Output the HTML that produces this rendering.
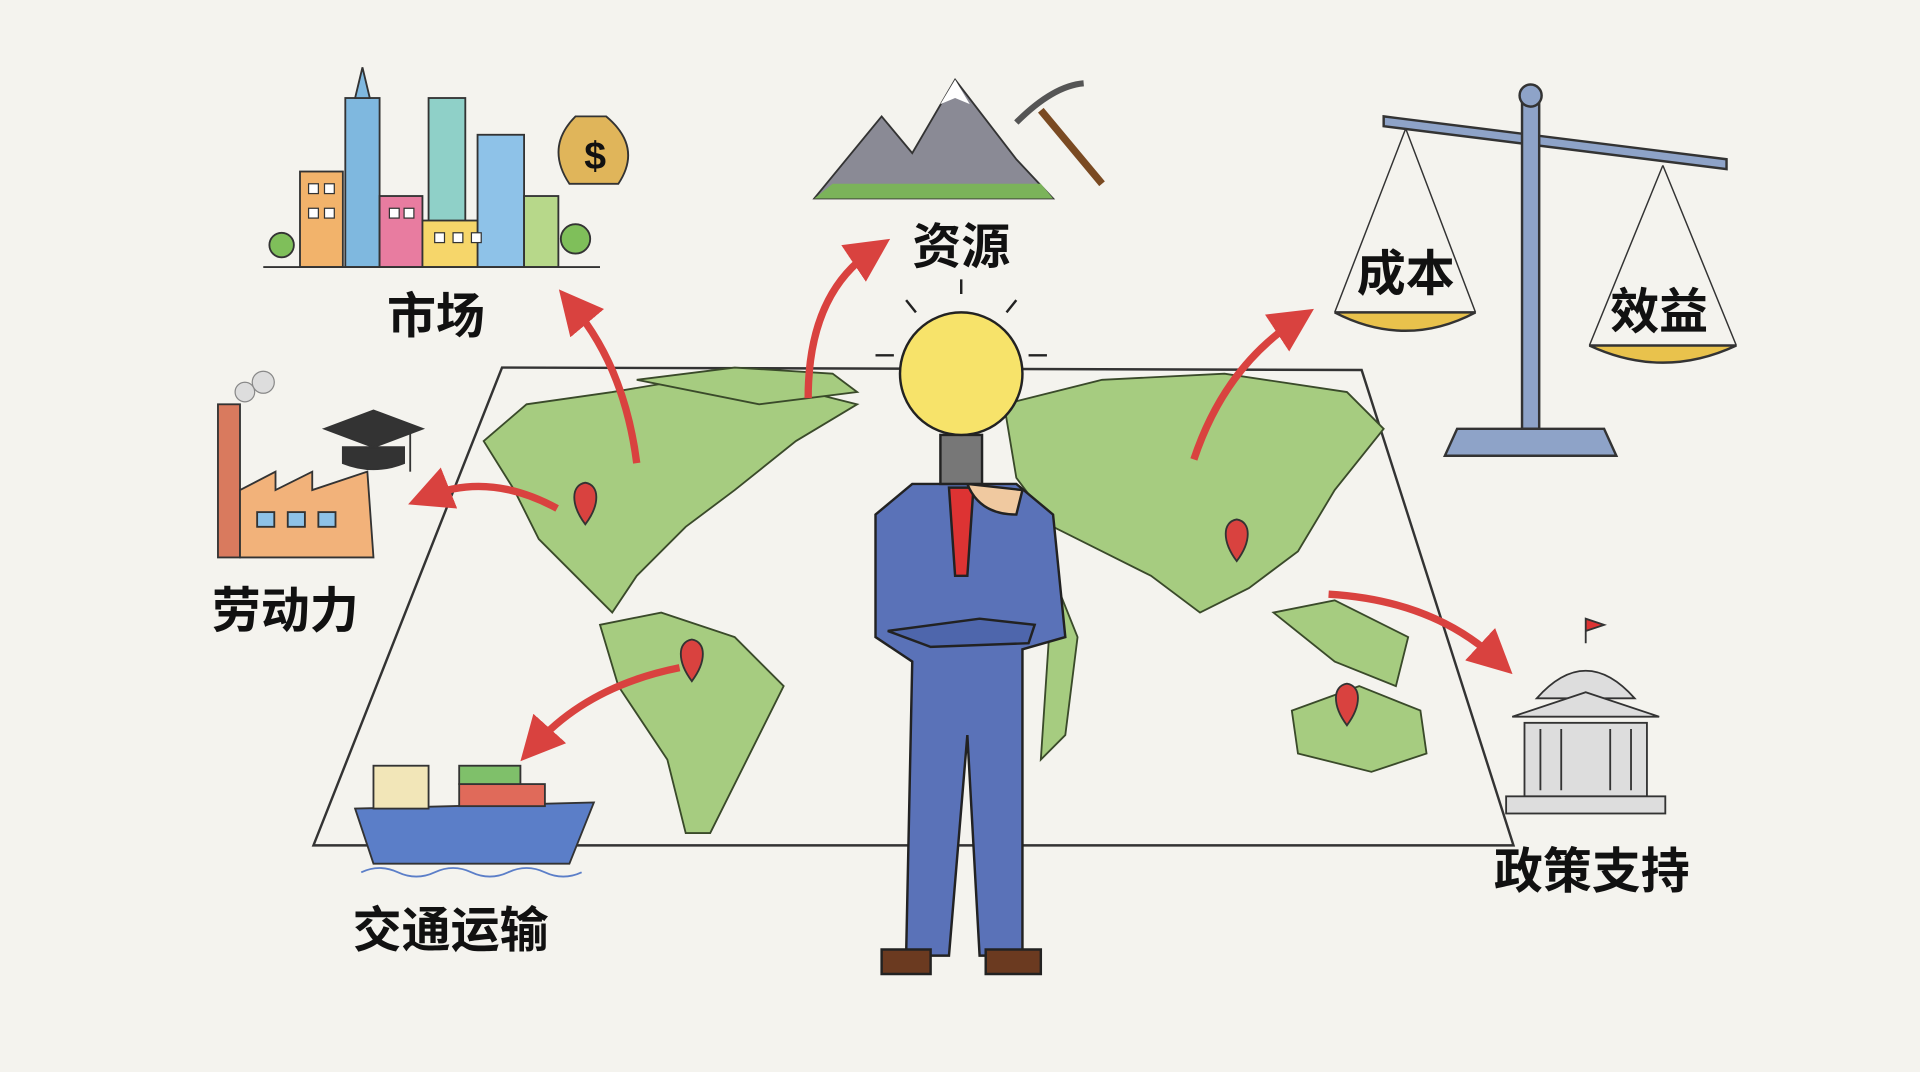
<!DOCTYPE html>
<html><head><meta charset="utf-8"><style>
html,body{margin:0;padding:0;background:#f4f3ee;}
svg{display:block}
text{font-family:"Liberation Sans","Noto Sans CJK SC",sans-serif;font-weight:700;fill:#111}
</style></head><body>
<svg width="1920" height="1072" viewBox="0 0 1568 875" preserveAspectRatio="none" xmlns="http://www.w3.org/2000/svg">
<defs>
<marker id="ah" markerWidth="6" markerHeight="6" refX="3" refY="3" orient="auto"><path d="M0,0 L6,3 L0,6 Z" fill="#d9423f"/></marker>
</defs>
<rect width="1568" height="875" fill="#f4f3ee"/>
<path d="M410,300 L1112,302 L1236,690 L256,690 Z" fill="none" stroke="#333" stroke-width="2"/>
<g fill="#a6cc80" stroke="#3a4a2a" stroke-width="1.5">
<path d="M395,360 L430,330 L500,320 L560,310 L640,315 L700,330 L650,360 L600,400 L560,430 L520,470 L500,500 L470,470 L440,440 L420,400 Z"/>
<path d="M520,310 L600,300 L680,305 L700,320 L620,330 Z"/>
<path d="M490,510 L540,500 L600,520 L640,560 L610,620 L580,680 L560,680 L545,620 L505,560 Z"/>
<path d="M820,330 L900,310 L1000,305 L1100,320 L1130,350 L1090,400 L1060,450 L1020,480 L980,500 L940,470 L900,450 L860,430 L830,390 Z"/>
<path d="M1040,500 L1090,490 L1150,520 L1140,560 L1090,540 Z"/>
<path d="M1055,580 L1110,560 L1160,580 L1165,615 L1120,630 L1060,615 Z"/>
<path d="M860,470 L880,520 L870,600 L850,620 Z"/>
</g>
<g fill="#d9423f" stroke="#333" stroke-width="1.5">
<path d="M478,428 C466,412 466,396 478,394 C490,396 490,412 478,428 Z"/>
<path d="M565,556 C553,540 553,524 565,522 C577,524 577,540 565,556 Z"/>
<path d="M1010,458 C998,442 998,426 1010,424 C1022,426 1022,442 1010,458 Z"/>
<path d="M1100,592 C1088,576 1088,560 1100,558 C1112,560 1112,576 1100,592 Z"/>
</g>
<g fill="none" stroke="#d9423f" stroke-width="6" marker-end="url(#ah)">
<path d="M520,378 Q510,300 468,250"/>
<path d="M660,325 Q660,240 712,205"/>
<path d="M455,415 Q400,385 350,405"/>
<path d="M555,545 Q480,560 437,608"/>
<path d="M975,375 Q1000,300 1058,262"/>
<path d="M1085,485 Q1170,490 1222,538"/>
</g>
<!-- man -->
<g stroke="#222" stroke-width="2">
<path d="M715,420 L745,395 L830,395 L860,420 L870,520 L835,530 L835,780 L800,780 L790,600 L775,780 L740,780 L745,540 L715,520 Z" fill="#5a72b8"/>
<path d="M775,398 L795,398 L790,470 L780,470 Z" fill="#d33"/>
<path d="M725,515 L800,505 L845,510 L840,525 L760,528 Z" fill="#4e66ac"/>
<path d="M790,395 Q800,420 830,420 L835,400 Z" fill="#f0c9a0"/>
<path d="M720,775 L760,775 L760,795 L720,795 Z M805,775 L850,775 L850,795 L805,795 Z" fill="#6b3a20"/>
<rect x="768" y="355" width="34" height="40" fill="#777"/>
<circle cx="785" cy="305" r="50" fill="#f7e36a"/>
</g>
<g stroke="#222" stroke-width="2"><path d="M785,228 L785,240 M740,245 L748,255 M830,245 L822,255 M715,290 L730,290 M840,290 L855,290"/></g>
<!-- city -->
<g stroke="#333" stroke-width="1.5">
<rect x="245" y="140" width="35" height="78" fill="#f2b36b"/>
<rect x="282" y="80" width="28" height="138" fill="#7fb8df"/>
<path d="M290,80 L296,55 L302,80 Z" fill="#7fb8df"/>
<rect x="310" y="160" width="35" height="58" fill="#e87ca0"/>
<rect x="350" y="80" width="30" height="138" fill="#8fd0c8"/>
<rect x="345" y="180" width="60" height="38" fill="#f6d66a"/>
<rect x="390" y="110" width="38" height="108" fill="#8ec2e8"/>
<rect x="428" y="160" width="28" height="58" fill="#b7d88a"/>
<line x1="215" y1="218" x2="490" y2="218"/>
<circle cx="230" cy="200" r="10" fill="#7fbf5a"/>
<circle cx="470" cy="195" r="12" fill="#7fbf5a"/>
<path d="M465,150 Q445,120 470,95 L495,95 Q525,120 505,150 Z" fill="#e0b55a"/>
</g>
<g fill="#fff" stroke="#333" stroke-width="1"><rect x="252" y="150" width="8" height="8"/><rect x="265" y="150" width="8" height="8"/><rect x="252" y="170" width="8" height="8"/><rect x="265" y="170" width="8" height="8"/><rect x="318" y="170" width="8" height="8"/><rect x="330" y="170" width="8" height="8"/><rect x="355" y="190" width="8" height="8"/><rect x="370" y="190" width="8" height="8"/><rect x="385" y="190" width="8" height="8"/></g>
<text x="486" y="138" font-size="32" text-anchor="middle">$</text>
<!-- mountains -->
<path d="M665,162 L720,95 L745,125 L780,65 L830,130 L860,162 Z" fill="#8a8a95" stroke="#333" stroke-width="1.5"/>
<path d="M768,85 L780,65 L792,85 L780,80 Z" fill="#fff"/>
<path d="M665,162 L860,162 L850,150 L680,150 Z" fill="#7bb35a"/>
<path d="M850,90 L900,150" stroke="#7a4a22" stroke-width="6"/>
<path d="M830,100 Q860,70 885,68" stroke="#555" stroke-width="5" fill="none"/>
<!-- scale -->
<g stroke="#333" stroke-width="2" fill="#8ea3c8">
<path d="M1130,95 Q1250,110 1410,130 L1410,138 Q1250,118 1130,103 Z"/>
<rect x="1243" y="85" width="14" height="265"/>
<circle cx="1250" cy="78" r="9"/>
<path d="M1190,350 L1310,350 L1320,372 L1180,372 Z"/>
<path d="M1090,255 Q1148,285 1205,255 Z" fill="#e9c24c"/>
<path d="M1298,282 Q1358,310 1418,282 Z" fill="#e9c24c"/>
</g>
<g stroke="#333" stroke-width="1.2" fill="none"><path d="M1148,105 L1090,255 M1148,105 L1205,255 M1358,135 L1298,282 M1358,135 L1418,282"/></g>
<!-- factory -->
<g stroke="#333" stroke-width="1.5">
<rect x="178" y="330" width="18" height="125" fill="#d97a5e"/>
<path d="M196,455 L196,400 L225,385 L225,400 L255,385 L255,400 L300,385 L305,455 Z" fill="#f2b27a"/>
<rect x="210" y="418" width="14" height="12" fill="#8ec2e8"/><rect x="235" y="418" width="14" height="12" fill="#8ec2e8"/><rect x="260" y="418" width="14" height="12" fill="#8ec2e8"/>
<path d="M280,365 L280,378 Q305,388 330,378 L330,365 Z" fill="#333"/>
<path d="M265,350 L305,335 L345,350 L305,365 Z" fill="#333"/>
<line x1="335" y1="354" x2="335" y2="385"/>
</g>
<circle cx="200" cy="320" r="8" fill="#ddd" stroke="#888"/><circle cx="215" cy="312" r="9" fill="#ddd" stroke="#888"/>
<!-- ship -->
<g stroke="#333" stroke-width="1.5">
<path d="M290,660 L485,655 L465,705 L305,705 Z" fill="#5b7ec8"/>
<rect x="305" y="625" width="45" height="35" fill="#f2e6b8"/>
<rect x="375" y="640" width="70" height="18" fill="#e06a5a"/>
<rect x="375" y="625" width="50" height="15" fill="#7fc06a"/>
<path d="M295,712 Q310,705 325,712 T355,712 T385,712 T415,712 T445,712 T475,712" fill="none" stroke="#5b7ec8"/>
</g>
<!-- building -->
<g stroke="#333" stroke-width="1.5" fill="#ddd">
<path d="M1255,570 Q1295,525 1335,570 Z"/>
<path d="M1235,585 L1295,565 L1355,585 Z"/>
<rect x="1245" y="590" width="100" height="60"/>
<rect x="1230" y="650" width="130" height="14"/>
<path d="M1295,525 L1295,505 L1310,510 L1295,515" fill="#d33"/>
<path d="M1258,595 L1258,645 M1275,595 L1275,645 M1315,595 L1315,645 M1332,595 L1332,645" fill="none"/>
</g>
<text x="356" y="272" font-size="40" text-anchor="middle">市场</text>
<text x="785" y="215" font-size="40" text-anchor="middle">资源</text>
<text x="1148" y="237" font-size="40" text-anchor="middle">成本</text>
<text x="1355" y="268" font-size="40" text-anchor="middle">效益</text>
<text x="233" y="512" font-size="40" text-anchor="middle">劳动力</text>
<text x="368" y="773" font-size="40" text-anchor="middle">交通运输</text>
<text x="1300" y="725" font-size="40" text-anchor="middle">政策支持</text>
</svg>
</body></html>
